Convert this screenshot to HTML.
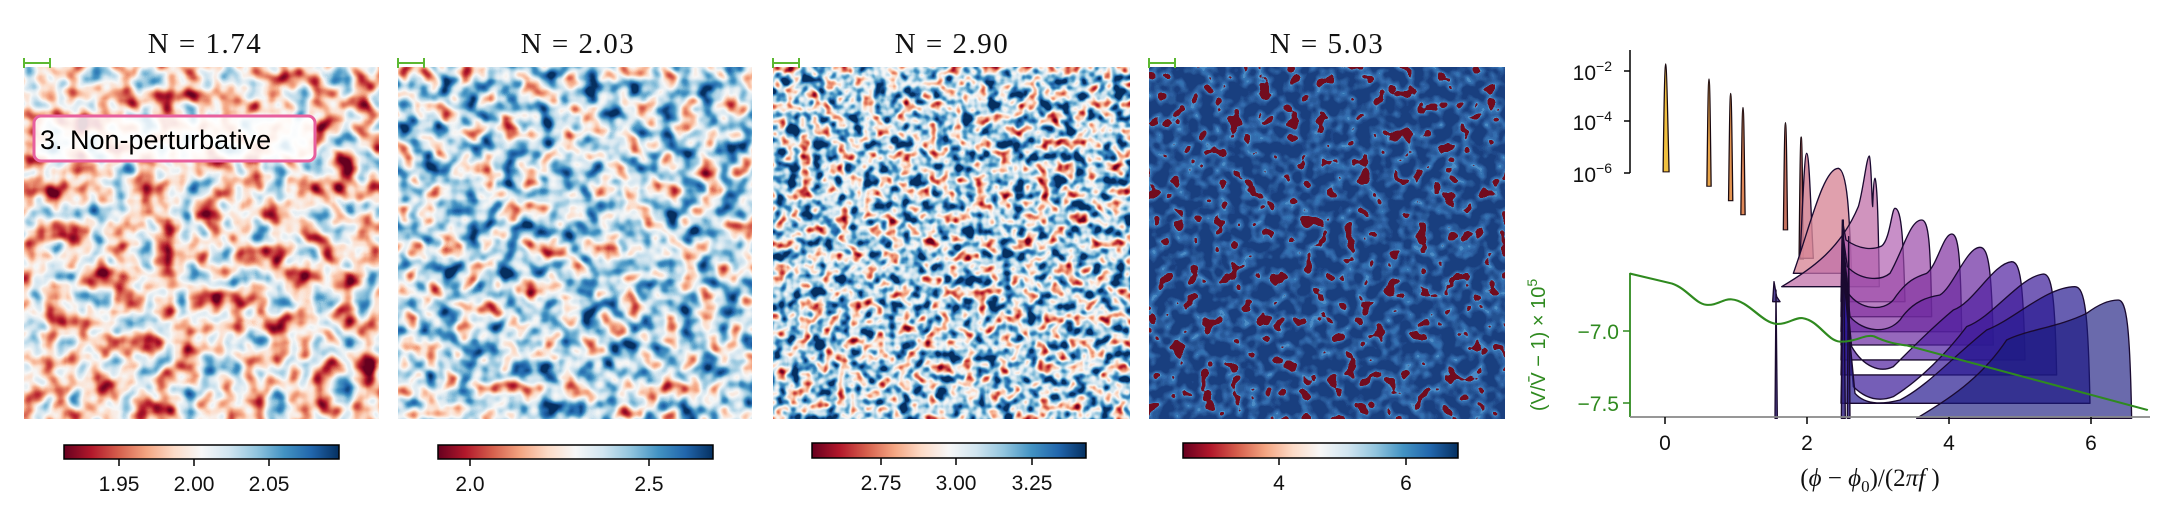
<!DOCTYPE html>
<html><head><meta charset="utf-8"><style>
html,body{margin:0;padding:0;background:#fff;width:2166px;height:526px;overflow:hidden}
text{font-family:"Liberation Sans",sans-serif}
</style></head><body>
<svg width="2166" height="526" viewBox="0 0 2166 526" xmlns="http://www.w3.org/2000/svg">
<defs>
<linearGradient id="cb" x1="0" x2="1" y1="0" y2="0">
<stop offset="0" stop-color="#67001f"/><stop offset="0.1" stop-color="#b2182b"/><stop offset="0.2" stop-color="#d6604d"/><stop offset="0.3" stop-color="#f4a582"/><stop offset="0.4" stop-color="#fddbc7"/><stop offset="0.5" stop-color="#f7f7f7"/><stop offset="0.6" stop-color="#d1e5f0"/><stop offset="0.7" stop-color="#92c5de"/><stop offset="0.8" stop-color="#4393c3"/><stop offset="0.9" stop-color="#2166ac"/><stop offset="1" stop-color="#053061"/>
</linearGradient>
<filter id="f1" x="0" y="0" width="1" height="1" color-interpolation-filters="sRGB">
<feTurbulence type="fractalNoise" baseFrequency="0.045" numOctaves="2" seed="3"/>
<feColorMatrix type="matrix" values="1.4 0 0 0 -0.27  1.4 0 0 0 -0.27  1.4 0 0 0 -0.27  0 0 0 0 1"/>
<feComponentTransfer>
<feFuncR type="table" tableValues="0.404 0.698 0.839 0.957 0.992 0.969 0.820 0.573 0.263 0.129 0.020"/>
<feFuncG type="table" tableValues="0 0.094 0.376 0.647 0.859 0.969 0.898 0.773 0.576 0.4 0.188"/>
<feFuncB type="table" tableValues="0.122 0.169 0.302 0.510 0.780 0.969 0.941 0.871 0.765 0.675 0.380"/>
</feComponentTransfer></filter>
<filter id="f2" x="0" y="0" width="1" height="1" color-interpolation-filters="sRGB">
<feTurbulence type="fractalNoise" baseFrequency="0.05" numOctaves="2" seed="7"/>
<feColorMatrix type="matrix" values="1.5 0 0 0 -0.15  1.5 0 0 0 -0.15  1.5 0 0 0 -0.15  0 0 0 0 1"/>
<feComponentTransfer>
<feFuncR type="table" tableValues="0.404 0.698 0.839 0.957 0.992 0.969 0.820 0.573 0.263 0.129 0.020"/>
<feFuncG type="table" tableValues="0 0.094 0.376 0.647 0.859 0.969 0.898 0.773 0.576 0.4 0.188"/>
<feFuncB type="table" tableValues="0.122 0.169 0.302 0.510 0.780 0.969 0.941 0.871 0.765 0.675 0.380"/>
</feComponentTransfer></filter>
<filter id="f3" x="0" y="0" width="1" height="1" color-interpolation-filters="sRGB">
<feTurbulence type="fractalNoise" baseFrequency="0.08" numOctaves="2" seed="11"/>
<feColorMatrix type="matrix" values="1.8 0 0 0 -0.28  1.8 0 0 0 -0.28  1.8 0 0 0 -0.28  0 0 0 0 1"/>
<feComponentTransfer>
<feFuncR type="table" tableValues="0.404 0.698 0.839 0.957 0.992 0.969 0.820 0.573 0.263 0.129 0.020"/>
<feFuncG type="table" tableValues="0 0.094 0.376 0.647 0.859 0.969 0.898 0.773 0.576 0.4 0.188"/>
<feFuncB type="table" tableValues="0.122 0.169 0.302 0.510 0.780 0.969 0.941 0.871 0.765 0.675 0.380"/>
</feComponentTransfer></filter>
<filter id="f4" x="0" y="0" width="1" height="1" color-interpolation-filters="sRGB">
<feTurbulence type="fractalNoise" baseFrequency="0.07" numOctaves="2" seed="5"/>
<feColorMatrix type="matrix" values="3 0 0 0 -0.82  3 0 0 0 -0.82  3 0 0 0 -0.82  0 0 0 0 1"/>
<feComponentTransfer>
<feFuncR type="discrete" tableValues="0.45 0.45 0.3 0.2 0.2 0.18 0.16 0.14 0.12 0.1"/>
<feFuncG type="discrete" tableValues="0.05 0.05 0.55 0.45 0.42 0.38 0.35 0.32 0.28 0.25"/>
<feFuncB type="discrete" tableValues="0.12 0.12 0.78 0.7 0.68 0.64 0.6 0.57 0.54 0.5"/>
</feComponentTransfer></filter>
</defs>

<rect x="24" y="67" width="355" height="352" filter="url(#f1)"/>
<rect x="398" y="67" width="354" height="352" filter="url(#f2)"/>
<rect x="773" y="67" width="357" height="352" filter="url(#f3)"/>
<rect x="1149" y="67" width="356" height="352" filter="url(#f4)"/>

<g font-size="29" text-anchor="middle" fill="#111" letter-spacing="1.5">
<text x="205" y="53" style="font-family:'Liberation Serif',serif">N = 1.74</text>
<text x="578" y="53" style="font-family:'Liberation Serif',serif">N = 2.03</text>
<text x="952" y="53" style="font-family:'Liberation Serif',serif">N = 2.90</text>
<text x="1327" y="53" style="font-family:'Liberation Serif',serif">N = 5.03</text>
</g>
<g stroke="#5cb832" stroke-width="2">
<path d="M24,63H50M24,58V68M50,58V68"/>
<path d="M398,63H424M398,58V68M424,58V68"/>
<path d="M773,63H799M773,58V68M799,58V68"/>
<path d="M1149,63H1175M1149,58V68M1175,58V68"/>
</g>
<rect x="34" y="116" width="281" height="45" rx="7" fill="rgba(255,255,255,0.85)" stroke="#e8609e" stroke-width="3"/>
<text x="40" y="149" font-size="27" fill="#000">3. Non-perturbative</text>

<g stroke="#000" stroke-width="1.5">
<rect x="64" y="445" width="275" height="14" fill="url(#cb)"/>
<rect x="438" y="445" width="275" height="14" fill="url(#cb)"/>
<rect x="812" y="443" width="274" height="15" fill="url(#cb)"/>
<rect x="1183" y="443" width="275" height="15" fill="url(#cb)"/>
<path d="M119,459v7M194,459v7M269,459v7M470,459v7M649,459v7M881,458v7M956,458v7M1032,458v7M1279,458v7M1406,458v7"/>
</g>
<g font-size="21" text-anchor="middle" fill="#111">
<text x="119" y="491">1.95</text><text x="194" y="491">2.00</text><text x="269" y="491">2.05</text>
<text x="470" y="491">2.0</text><text x="649" y="491">2.5</text>
<text x="881" y="490">2.75</text><text x="956" y="490">3.00</text><text x="1032" y="490">3.25</text>
<text x="1279" y="490">4</text><text x="1406" y="490">6</text>
</g>

<g stroke="#000" stroke-width="1.5"><path d="M1630,50V173M1624,71h6M1624,121h6M1624,173h6"/></g>
<g font-size="21" fill="#111" text-anchor="end">
<text x="1612" y="80">10<tspan font-size="14" dy="-9">−2</tspan></text>
<text x="1612" y="130">10<tspan font-size="14" dy="-9">−4</tspan></text>
<text x="1612" y="182">10<tspan font-size="14" dy="-9">−6</tspan></text>
</g>

<g transform="translate(1500,0) scale(0.4248,0.3356)" stroke="#1a0a10" stroke-width="3">
<path d="M384,512 C386,300 388,190 390,190 C392,190 394,300 398,512Z" fill="#f0c040"/>
<path d="M487,555 C489,350 490,235 492,235 C494,235 495,350 497,555Z" fill="#e8a448"/>
<path d="M538,598 C540,400 541,278 543,278 C545,278 546,400 548,598Z" fill="#e49450"/>
<path d="M567,640 C569,440 570,320 572,320 C574,320 575,440 577,640Z" fill="#de8858"/>
<path d="M667,685 C669,480 670,365 672,365 C674,365 675,480 677,685Z" fill="#c87460"/>
<path d="M704,772 C706,520 707,408 709,408 C711,408 712,520 714,772Z" fill="#b8686a"/>
</g>

<g transform="translate(1760,140) scale(0.3333)" stroke="#1a0a30" stroke-width="4" stroke-linejoin="round">
<path d="M120,355 C128,200 133,40 140,40 C148,40 152,200 160,355Z" fill="#d08090" fill-opacity="0.85"/>
<path d="M100,400 C150,260 190,85 235,85 C262,90 268,220 275,400Z" fill="#d88898" fill-opacity="0.8"/>
<path d="M65,440 C150,390 240,330 295,200 C310,150 320,48 328,48 C334,60 336,200 338,200 C340,150 342,115 345,115 C352,130 355,250 358,440Z" fill="#c070a8" fill-opacity="0.75"/>
<path d="M243,485 L247,240 L258,300 C300,330 340,330 365,318 C390,300 395,205 405,205 C425,205 430,300 435,485Z" fill="#b060b0" fill-opacity="0.7"/>
<path d="M243,530 L247,270 L262,380 C300,420 360,425 390,400 C430,330 450,240 485,240 C505,240 512,300 515,530Z" fill="#9a48a8" fill-opacity="0.7"/>
<path d="M243,575 L248,290 L265,460 C300,510 370,515 400,480 C440,420 470,410 500,400 C530,380 550,282 575,282 C595,282 602,340 605,575Z" fill="#8030a0" fill-opacity="0.7"/>
<path d="M243,615 L248,320 L270,530 C310,575 380,585 420,540 C460,480 510,470 540,465 C580,440 620,322 660,322 C685,322 695,380 700,615Z" fill="#6a28a0" fill-opacity="0.7"/>
<path d="M243,660 L249,350 L275,620 C310,680 360,700 400,680 C460,620 520,560 580,510 C640,490 700,370 755,365 C780,365 790,420 795,660Z" fill="#5020a0" fill-opacity="0.7"/>
<path d="M243,705 L250,380 L280,740 C320,780 360,785 400,770 C480,720 560,640 620,560 C700,530 780,410 850,402 C875,402 885,460 890,705Z" fill="#3a1a98" fill-opacity="0.7"/>
<path d="M243,790 L250,400 L285,760 C320,800 380,790 420,780 C500,740 580,650 680,570 C760,540 860,440 945,440 C975,440 985,520 990,790Z" fill="#261a90" fill-opacity="0.7"/>
<path d="M470,835 C560,780 660,720 740,600 C800,570 900,560 980,520 C1020,490 1050,480 1075,480 C1100,480 1110,560 1115,835Z" fill="#1a1a80" fill-opacity="0.65"/>
<path d="M38,485 L42,425 L50,470 L60,485Z M45,835 L48,450 L52,835Z M244,835 L250,240 L256,835Z M262,835 L266,290 L270,835Z" fill="#2a1a80" fill-opacity="0.8"/>
</g>

<g transform="translate(1500,0) scale(0.4248,0.3356)" fill="none" stroke="#2f8a1f" stroke-width="6">
<path d="M305,815 L405,845 C440,860 460,905 485,908 C510,912 525,890 545,892 C585,896 615,960 650,965 C675,968 695,945 712,948 C750,955 770,1015 800,1018 C835,1020 860,995 880,1002 C910,1020 930,1025 960,1030 L1525,1222"/>
</g>

<path d="M1630,273V417" stroke="#2f8a1f" stroke-width="1.8"/>
<path d="M1630,417H2150" stroke="#888" stroke-width="1.8"/>
<g stroke="#000" stroke-width="1.5"><path d="M1665,417v7M1807,417v7M1949,417v7M2091,417v7"/></g>
<g stroke="#2f8a1f" stroke-width="1.5"><path d="M1623,331h7M1623,403h7"/></g>
<g font-size="21" fill="#111" text-anchor="middle">
<text x="1665" y="450">0</text><text x="1807" y="450">2</text><text x="1949" y="450">4</text><text x="2091" y="450">6</text>
</g>
<g font-size="21" fill="#2f8a1f" text-anchor="end">
<text x="1619" y="339">−7.0</text><text x="1619" y="411">−7.5</text>
</g>
<text transform="translate(1545,345) rotate(-90)" font-size="20" fill="#2f8a1f" text-anchor="middle">(V/V̄ − 1) × 10<tspan font-size="14" dy="-8">5</tspan></text>
<text x="1870" y="486" font-size="25" text-anchor="middle" fill="#111" style="font-family:'Liberation Serif',serif">(<tspan font-style="italic">ϕ</tspan> − <tspan font-style="italic">ϕ</tspan><tspan font-size="17" dy="6">0</tspan><tspan dy="-6">)/(2</tspan><tspan font-style="italic">πf</tspan> )</text>
</svg>
</body></html>
